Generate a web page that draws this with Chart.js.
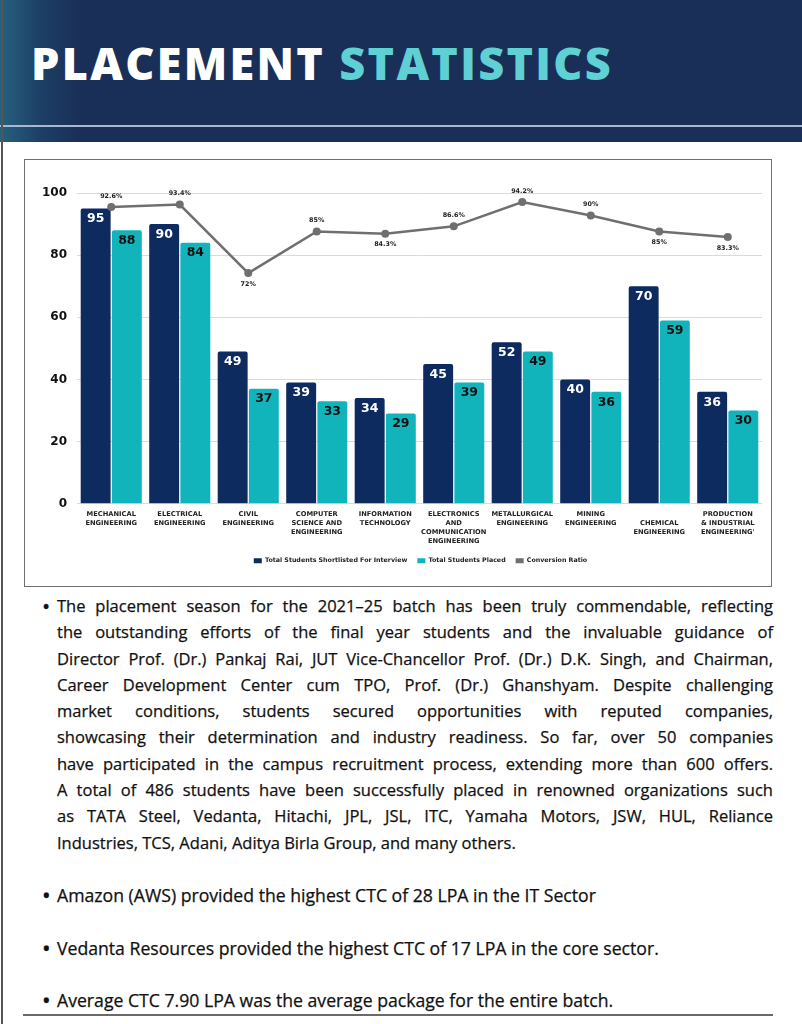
<!DOCTYPE html>
<html>
<head>
<meta charset="utf-8">
<script src="https://cdn.jsdelivr.net/npm/chart.js@4.4.1/dist/chart.umd.min.js"></script>
<style>
  html, body { margin: 0; padding: 0; }
  body { width: 802px; height: 1024px; position: relative; overflow: hidden; background: #fff; font-family: "Open Sans", sans-serif; }
  .header { position: absolute; left: 0; top: 0; width: 802px; height: 142px;
    background: linear-gradient(90deg, #25617f 0px, #1d3f66 40px, #1a2f57 80px); }
  .header .rule { position: absolute; left: 0; top: 125px; width: 802px; height: 2px; background: #a9b8d2; }
  .title { position: absolute; left: 31px; top: 33px; margin: 0; font-family: "Open Sans", sans-serif; font-weight: 800;
    font-size: 45px; line-height: 60px; color: #fff; letter-spacing: 2.3px; white-space: nowrap; }
  .title span { color: #5fd0d4; }
  .edge { position: absolute; left: 1px; top: 0; width: 2px; height: 1024px; background: #555; }
  .box { position: absolute; left: 24px; top: 159px; width: 746px; height: 426px; border: 1.5px solid #6f6f6f; background: #fff; }
  .text { position: absolute; left: 44px; top: 593px; width: 729px; color: #111; font-size: 15.5px; font-weight: 500; line-height: 26.3px;
    -webkit-text-stroke: 0.25px #111; }
  .item { position: relative; padding-left: 13px; }
  .item::before { content: "\2022"; position: absolute; left: -1px; top: 0; font-weight: 700; }
  .item.big { font-size: 107%; }
  .ln { display: block; white-space: nowrap; text-align: justify; text-align-last: justify; }
  .ln.last { text-align-last: left; }
  .gap { height: 26.3px; }
  .bottomrule { position: absolute; left: 23px; top: 1014px; width: 750px; height: 2px; background: #6a6a6a; }
</style>
</head>
<body>
<div class="header"><div class="rule"></div></div>
<div class="edge"></div>
<h1 class="title">PLACEMENT <span>STATISTICS</span></h1>
<div class="box"><canvas id="chart" width="746" height="426"></canvas></div>

<div class="text">
  <div class="item" id="para">
    <span class="ln">The placement season for the 2021–25 batch has been truly commendable, reflecting</span>
    <span class="ln">the outstanding efforts of the final year students and the invaluable guidance of</span>
    <span class="ln">Director Prof. (Dr.) Pankaj Rai, JUT Vice-Chancellor Prof. (Dr.) D.K. Singh, and Chairman,</span>
    <span class="ln">Career Development Center cum TPO, Prof. (Dr.) Ghanshyam. Despite challenging</span>
    <span class="ln">market conditions, students secured opportunities with reputed companies,</span>
    <span class="ln">showcasing their determination and industry readiness. So far, over 50 companies</span>
    <span class="ln">have participated in the campus recruitment process, extending more than 600 offers.</span>
    <span class="ln">A total of 486 students have been successfully placed in renowned organizations such</span>
    <span class="ln">as TATA Steel, Vedanta, Hitachi, JPL, JSL, ITC, Yamaha Motors, JSW, HUL, Reliance</span>
    <span class="ln last">Industries, TCS, Adani, Aditya Birla Group, and many others.</span>
  </div>
  <div class="gap"></div>
  <div class="item big"><span class="ln last">Amazon (AWS) provided the highest CTC of 28 LPA in the IT Sector</span></div>
  <div class="gap"></div>
  <div class="item big"><span class="ln last">Vedanta Resources provided the highest CTC of 17 LPA in the core sector.</span></div>
  <div class="gap"></div>
  <div class="item big"><span class="ln last">Average CTC 7.90 LPA was the average package for the entire batch.</span></div>
</div>
<div class="bottomrule"></div>

<script>
// Datos del gráfico
const branches = [
  ['MECHANICAL', 'ENGINEERING'],
  ['ELECTRICAL', 'ENGINEERING'],
  ['CIVIL', 'ENGINEERING'],
  ['COMPUTER', 'SCIENCE AND', 'ENGINEERING'],
  ['INFORMATION', 'TECHNOLOGY'],
  ['ELECTRONICS', 'AND', 'COMMUNICATION', 'ENGINEERING'],
  ['METALLURGICAL', 'ENGINEERING'],
  ['MINING', 'ENGINEERING'],
  ['', 'CHEMICAL', 'ENGINEERING'],
  ['PRODUCTION', '& INDUSTRIAL', "ENGINEERING'"]
];
const shortlisted = [95, 90, 49, 39, 34, 45, 52, 40, 70, 36];
const placed = [88, 84, 37, 33, 29, 39, 49, 36, 59, 30];
const conversion = [92.6, 93.4, 72, 85, 84.3, 86.6, 94.2, 90, 85, 83.3];
const yTicks = [0, 20, 40, 60, 80, 100];

// label above / below each ratio point
const ratioLabelSide = ['up', 'up', 'down', 'up', 'down', 'up', 'up', 'up', 'down', 'down'];

const NAVY = '#0d2b5e';
const TEAL = '#12b4bc';
const GREY = '#6f6f6f';
const LABEL_FONT = '"DejaVu Sans", sans-serif';

// Ajuste del párrafo: tamaño de letra para que las líneas llenen el ancho
(function fitParagraph() {
  const c = document.createElement('canvas').getContext('2d');
  c.font = '500 16px "Open Sans"';
  let widest = 0;
  document.querySelectorAll('#para .ln').forEach(el => {
    widest = Math.max(widest, c.measureText(el.textContent).width);
  });
  const size = Math.min(16.5, 16 * 710 / widest);
  document.querySelector('.text').style.fontSize = size.toFixed(2) + 'px';
})();

// Etiquetas de valores sobre barras y puntos
const valueLabels = {
  id: 'valueLabels',
  afterLayout(chart) {
    // centrar la leyenda bajo el área del gráfico
    chart.legend.left += 27;
    chart.legend.right += 27;
  },
  afterDatasetsDraw(chart) {
    const ctx = chart.ctx;
    ctx.save();
    ctx.textAlign = 'center';
    ctx.textBaseline = 'middle';
    [0, 1].forEach(di => {
      const meta = chart.getDatasetMeta(di);
      ctx.font = 'bold 12.5px ' + LABEL_FONT;
      ctx.fillStyle = di === 0 ? '#ffffff' : '#111111';
      meta.data.forEach((bar, i) => {
        ctx.fillText(chart.data.datasets[di].data[i], bar.x, bar.y + 10.5);
      });
    });
    const line = chart.getDatasetMeta(2);
    ctx.font = 'bold 6.4px ' + LABEL_FONT;
    ctx.fillStyle = '#222';
    line.data.forEach((pt, i) => {
      const dy = ratioLabelSide[i] === 'up' ? -11 : 11;
      ctx.fillText(conversion[i] + '%', pt.x, pt.y + dy);
    });
    ctx.restore();
  }
};

const ctx = document.getElementById('chart').getContext('2d');
new Chart(ctx, {
  data: {
    labels: branches,
    datasets: [
      {
        type: 'bar',
        label: 'Total Students Shortlisted For Interview',
        data: shortlisted,
        backgroundColor: NAVY,
        borderRadius: 2,
        borderSkipped: 'bottom',
        categoryPercentage: 0.91,
        barPercentage: 0.96,
        yAxisID: 'y'
      },
      {
        type: 'bar',
        label: 'Total Students Placed',
        data: placed,
        backgroundColor: TEAL,
        borderRadius: 2,
        borderSkipped: 'bottom',
        categoryPercentage: 0.91,
        barPercentage: 0.96,
        yAxisID: 'y'
      },
      {
        type: 'line',
        label: 'Conversion Ratio',
        data: conversion,
        borderColor: GREY,
        backgroundColor: GREY,
        borderWidth: 2.5,
        pointRadius: 4,
        pointBackgroundColor: GREY,
        pointBorderWidth: 0,
        tension: 0,
        order: -1,
        yAxisID: 'y2'
      }
    ]
  },
  options: {
    responsive: false,
    animation: false,
    layout: { padding: { top: 33, left: 0, right: 9, bottom: 12 } },
    plugins: {
      tooltip: { enabled: false },
      legend: {
        position: 'bottom',
        labels: {
          boxWidth: 8,
          boxHeight: 5,
          padding: 10,
          color: '#222',
          font: { family: LABEL_FONT, size: 6.3, weight: 'bold' },
          sort: (a, b) => a.datasetIndex - b.datasetIndex,
          generateLabels: chart => Chart.defaults.plugins.legend.labels.generateLabels(chart)
            .map(l => Object.assign(l, { lineWidth: 0 }))
        }
      }
    },
    scales: {
      x: {
        grid: { display: false, drawTicks: false },
        border: { display: false },
        ticks: {
          autoSkip: false,
          maxRotation: 0,
          padding: 6,
          color: '#222',
          font: { family: LABEL_FONT, size: 6.7, weight: 'bold', lineHeight: 1.35 }
        },
        afterFit: scale => { scale.height = 44; }
      },
      y: {
        min: 0,
        max: 100,
        afterBuildTicks: scale => { scale.ticks = yTicks.map(v => ({ value: v })); },
        grid: { color: '#dadada', lineWidth: 1, drawTicks: false },
        border: { display: false },
        ticks: {
          padding: 10,
          color: '#111',
          font: { family: LABEL_FONT, size: 12, weight: 'bold' }
        },
        afterFit: scale => { scale.width = 52; }
      },
      y2: {
        display: false,
        min: 0,
        max: 97
      }
    }
  },
  plugins: [valueLabels]
});
</script>
</body>
</html>
